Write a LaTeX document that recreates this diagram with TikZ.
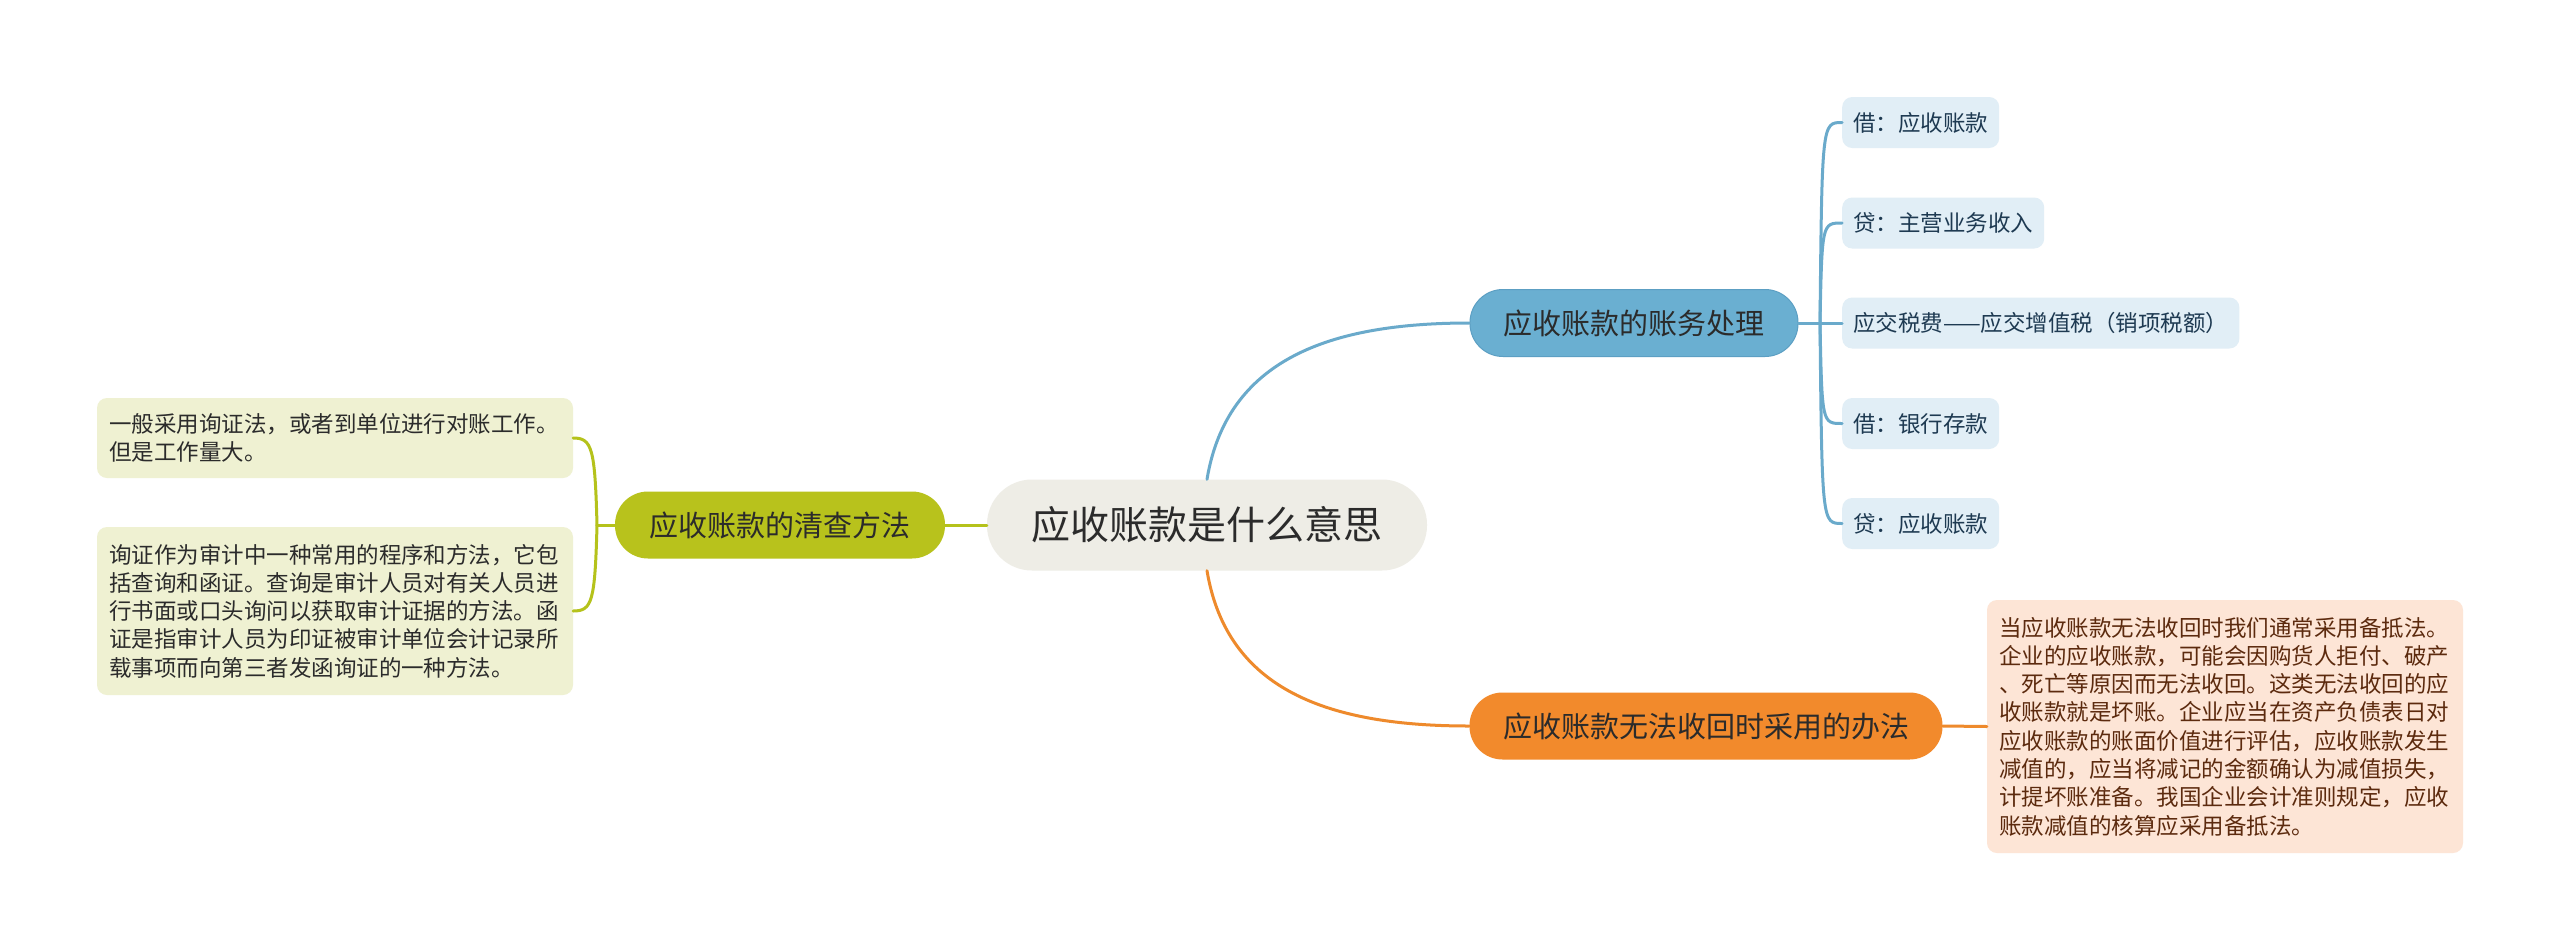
\documentclass[tikz,border=0pt]{standalone}
\usepackage{fontspec}
\setmainfont{Noto Sans CJK SC}
\definecolor{cfill}{HTML}{EEEDE6}
\definecolor{gmain}{HTML}{B8C21C}
\definecolor{gleaf}{HTML}{EFF1D2}
\definecolor{gline}{HTML}{B5C21B}
\definecolor{bmain}{HTML}{6AAFD1}
\definecolor{bborder}{HTML}{5C9FC3}
\definecolor{bleaf}{HTML}{E1EEF6}
\definecolor{bline}{HTML}{6AAACB}
\definecolor{omain}{HTML}{F28A2C}
\definecolor{oleaf}{HTML}{FDE5D6}
\definecolor{oline}{HTML}{EE8A2C}
\definecolor{btext}{HTML}{1E3A52}
\definecolor{otext}{HTML}{5C2A0E}
\definecolor{maintext}{HTML}{2B2B2B}
\begin{document}
\begin{tikzpicture}[x=1pt,y=-1pt,
  centernode/.style={fill=cfill, rounded corners=45pt, minimum height=91pt, minimum width=440pt, inner sep=0pt, text=maintext, font=\fontsize{39}{46}\selectfont},
  mainnode/.style={rounded corners=33pt, minimum height=67pt, inner sep=0pt, text=maintext, font=\fontsize{29}{35}\selectfont},
  bleafnode/.style={fill=bleaf, rounded corners=10pt, minimum height=51pt, inner xsep=11pt, inner ysep=0pt, anchor=west, text=btext, font=\fontsize{22.5}{28.3}\selectfont},
  textleaf/.style={rounded corners=10pt, inner xsep=12pt, inner ysep=13pt, text width=452pt, align=left, font=\fontsize{22.5}{28.3}\selectfont},
  conn/.style={line width=3pt, line cap=round}
]
\useasboundingbox (0,0) rectangle (2560,951);
\fill[white] (0,0) rectangle (2560,951);

% center
\node[centernode] (c) at (1207,525) {应收账款是什么意思};

% main branches
\node[mainnode, fill=gmain, minimum width=330pt] (g) at (780,525) {应收账款的清查方法};
\node[mainnode, fill=bmain, draw=bborder, line width=1pt, minimum width=328pt] (b) at (1634,323) {应收账款的账务处理};
\node[mainnode, fill=omain, minimum width=473pt] (o) at (1706,726) {应收账款无法收回时采用的办法};

% blue leaves
\node[bleafnode] (b1) at (1842,122.5) {借：应收账款};
\node[bleafnode] (b2) at (1842,223) {贷：主营业务收入};
\node[bleafnode] (b3) at (1842,323) {应交税费——应交增值税（销项税额）};
\node[bleafnode] (b4) at (1842,423.5) {借：银行存款};
\node[bleafnode] (b5) at (1842,523.5) {贷：应收账款};

% green leaves
\node[textleaf, fill=gleaf, text=maintext, minimum height=80pt] (g1) at (335,438) {一般采用询证法，或者到单位进行对账工作。\\但是工作量大。};
\node[textleaf, fill=gleaf, text=maintext, minimum height=168pt] (g2) at (335,611) {询证作为审计中一种常用的程序和方法，它包\\括查询和函证。查询是审计人员对有关人员进\\行书面或口头询问以获取审计证据的方法。函\\证是指审计人员为印证被审计单位会计记录所\\载事项而向第三者发函询证的一种方法。};

% orange leaf
\node[textleaf, fill=oleaf, text=otext, minimum height=253pt] (o1) at (2225,726.5) {当应收账款无法收回时我们通常采用备抵法。\\企业的应收账款，可能会因购货人拒付、破产\\、死亡等原因而无法收回。这类无法收回的应\\收账款就是坏账。企业应当在资产负债表日对\\应收账款的账面价值进行评估，应收账款发生\\减值的，应当将减记的金额确认为减值损失，\\计提坏账准备。我国企业会计准则规定，应收\\账款减值的核算应采用备抵法。};

% connectors center -> main
\draw[conn, bline] (c.north) .. controls +(20,-120) and +(-140,0) .. (b.west);
\draw[conn, oline] (c.south) .. controls +(20,120) and +(-140,0) .. (o.west);
\draw[conn, gline] (c.west) -- (g.east);

% blue leaves connectors
\coordinate (bj) at (1820,323);
\draw[conn, bline] (b.east) -- (bj);
\draw[conn, bline] (bj) .. controls (1822,122.5) .. (b1.west);
\draw[conn, bline] (bj) .. controls (1822,223) .. (b2.west);
\draw[conn, bline] (bj) -- (b3.west);
\draw[conn, bline] (bj) .. controls (1822,423.5) .. (b4.west);
\draw[conn, bline] (bj) .. controls (1822,523.5) .. (b5.west);

% green leaves connectors
\coordinate (gj) at (597,525);
\draw[conn, gline] (g.west) -- (gj);
\draw[conn, gline] (gj) .. controls (595,448) and (592,438) .. (g1.east);
\draw[conn, gline] (gj) .. controls (595,602) and (592,611) .. (g2.east);

% orange leaf connector
\draw[conn, oline] (o.east) -- (o1.west);
\end{tikzpicture}
\end{document}
